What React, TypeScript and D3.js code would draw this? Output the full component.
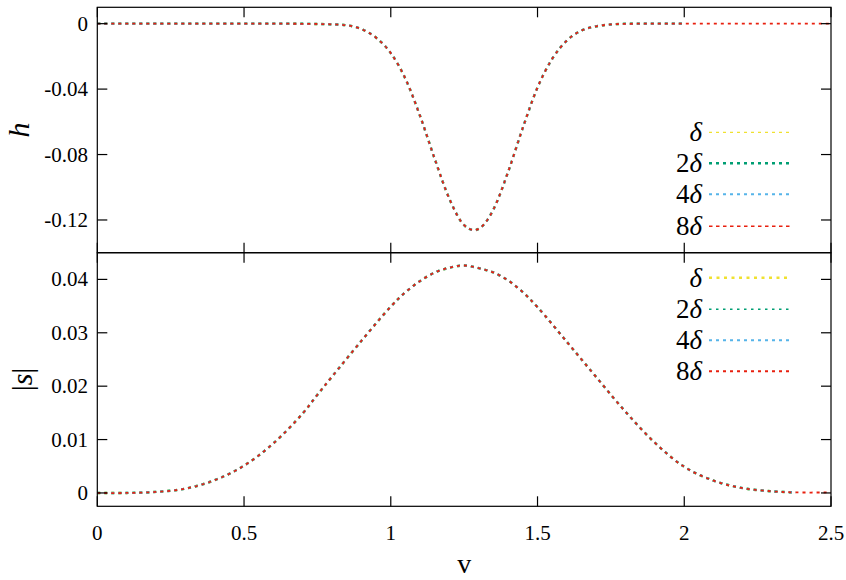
import React from "react";
import * as d3 from "d3";

// ---- data ----
const H_V = [0, 0.2, 0.4, 0.6, 0.7, 0.8, 0.85, 0.9, 0.95, 1.0, 1.05, 1.1, 1.15, 1.2, 1.25, 1.285, 1.32, 1.35, 1.4, 1.45, 1.5, 1.55, 1.6, 1.65, 1.7, 1.75, 1.8, 1.9, 2.0, 2.1, 2.3, 2.5];
const H_VAL = [0, 0, 0, 0, -0.0001, -0.0004, -0.001, -0.0033, -0.0086, -0.018, -0.0337, -0.0565, -0.0828, -0.1072, -0.1232, -0.1262, -0.1222, -0.1135, -0.0905, -0.0636, -0.039, -0.0215, -0.0103, -0.0042, -0.0016, -0.0005, -0.0001, 0, 0, 0, 0, 0];

const S_V = [0, 0.1, 0.2, 0.3, 0.4, 0.5, 0.6, 0.7, 0.75, 0.8, 0.9, 1.0, 1.05, 1.1, 1.15, 1.2, 1.25, 1.3, 1.35, 1.4, 1.45, 1.5, 1.6, 1.7, 1.8, 1.9, 2.0, 2.1, 2.2, 2.3, 2.38, 2.5];
const S_VAL = [0, 0, 0.0002, 0.0008, 0.0024, 0.0051, 0.0093, 0.0149, 0.0184, 0.0218, 0.0285, 0.0349, 0.0376, 0.0397, 0.0413, 0.0422, 0.0426, 0.0421, 0.0413, 0.0398, 0.0376, 0.0348, 0.0283, 0.0217, 0.0152, 0.0094, 0.0049, 0.0023, 0.0009, 0.0003, 0.0001, 0.0001];

const SERIES_LABELS = ["δ", "2δ", "4δ", "8δ"];
const TOP_END = [2.0, 2.0, 2.0, 2.5];
const BOTTOM_END = [2.38, 2.38, 2.38, 2.5];

const X_TICKS = [0, 0.5, 1, 1.5, 2, 2.5];
const X_TICK_LABELS = ["0", "0.5", "1", "1.5", "2", "2.5"];
const H_TICKS = [0, -0.04, -0.08, -0.12];
const H_TICK_LABELS = ["0", "-0.04", "-0.08", "-0.12"];
const S_TICKS = [0, 0.01, 0.02, 0.03, 0.04];
const S_TICK_LABELS = ["0", "0.01", "0.02", "0.03", "0.04"];

// ---- styles ----
const COLORS = ["#f0e130", "#009e73", "#56b4e9", "#e8200f"];
const TOP_STYLE = [
  { w: 1.3, dash: "3,4" },
  { w: 2.6, dash: "3,4" },
  { w: 2.0, dash: "3,4" },
  { w: 1.6, dash: "3.5,3.5" },
];
const BOT_STYLE = [
  { w: 2.5, dash: "3,4.5" },
  { w: 1.5, dash: "2.5,4.5" },
  { w: 2.0, dash: "3,4" },
  { w: 2.0, dash: "3,4" },
];
const CURVE_W = [2.4, 2.4, 2.2, 1.8];
const CURVE_DASH = "3,4";

const FAMILY = "Liberation Serif";

function T(props: any) {
  const { children, ...rest } = props;
  return (
    <text fontFamily={FAMILY} style={{ fontFamily: `"${FAMILY}"` }} {...rest}>{children}</text>
  );
}

export default function App() {
  const L = 97.3, R = 831, TOP = 7.3, MID = 252.7, B = 506.3;
  const x = d3.scaleLinear().domain([0, 2.5]).range([L, R]);
  const yT = d3.scaleLinear().domain([-0.14, 0.01]).range([MID, TOP]);
  const yB = d3.scaleLinear().domain([-0.0025, 0.045]).range([B, MID]);

  const hPts = H_V.map((v, i) => [v, H_VAL[i]] as [number, number]);
  const sPts = S_V.map((v, i) => [v, S_VAL[i]] as [number, number]);

  const lineT = d3.line<[number, number]>().x(d => x(d[0])).y(d => yT(d[1])).curve(d3.curveMonotoneX);
  const lineB = d3.line<[number, number]>().x(d => x(d[0])).y(d => yB(d[1])).curve(d3.curveCatmullRom.alpha(0.5));

  const TICK = 10;
  const tickLabelSize = 21;

  const legendTopY = [132.3, 163.3, 194.3, 226.3];
  const legendBotY = [277.7, 309.3, 340.3, 371.3];

  const legendLabel = (lab: string) => {
    const num = lab.slice(0, -1);
    return (
      <>
        {num && <tspan>{num}</tspan>}
        <tspan fontStyle="italic">δ</tspan>
      </>
    );
  };

  return (
    <svg width={846} height={580} fontFamily={FAMILY} style={{ position: "absolute", left: 0, top: 0, background: "#fff" }}>
      <rect x={0} y={0} width={846} height={580} fill="#fff" />
      <defs>
        <clipPath id="clipT">
          <rect x={L} y={TOP} width={R - L} height={MID - TOP} />
        </clipPath>
        <clipPath id="clipB">
          <rect x={L} y={MID} width={R - L} height={B - MID} />
        </clipPath>
      </defs>
      {/* curves top */}
      <g clipPath="url(#clipT)">
        {SERIES_LABELS.map((_, i) => (
          <path key={"t" + i} d={lineT(hPts.filter(p => p[0] <= TOP_END[i] + 1e-9)) || ""} fill="none"
            stroke={COLORS[i]} strokeWidth={CURVE_W[i]} strokeDasharray={CURVE_DASH} />
        ))}
      </g>
      <g clipPath="url(#clipB)">
        {SERIES_LABELS.map((_, i) => (
          <path key={"b" + i} d={lineB(sPts.filter(p => p[0] <= BOTTOM_END[i] + 1e-9)) || ""} fill="none"
            stroke={COLORS[i]} strokeWidth={CURVE_W[i]} strokeDasharray={CURVE_DASH} />
        ))}
      </g>

      {/* frames */}
      <rect x={L} y={TOP} width={R - L} height={MID - TOP} fill="none" stroke="#000" strokeWidth={1.2} />
      <rect x={L} y={MID} width={R - L} height={B - MID} fill="none" stroke="#000" strokeWidth={1.2} />

      {/* x ticks on both panels, all four edges */}
      {X_TICKS.map((t, i) => (
        <g key={"xt" + i} stroke="#000" strokeWidth={1.2}>
          <line x1={x(t)} x2={x(t)} y1={TOP} y2={TOP + TICK} />
          <line x1={x(t)} x2={x(t)} y1={MID} y2={MID - TICK} />
          <line x1={x(t)} x2={x(t)} y1={MID} y2={MID + TICK} />
          <line x1={x(t)} x2={x(t)} y1={B} y2={B - TICK} />
        </g>
      ))}
      {X_TICKS.map((t, i) => (
        <T key={"xl" + i} x={x(t)} y={540} textAnchor="middle" fontSize={tickLabelSize}>{X_TICK_LABELS[i]}</T>
      ))}

      {/* y ticks top */}
      {H_TICKS.map((t, i) => (
        <g key={"ht" + i}>
          <line x1={L} x2={L + TICK} y1={yT(t)} y2={yT(t)} stroke="#000" strokeWidth={1.2} />
          <line x1={R} x2={R - TICK} y1={yT(t)} y2={yT(t)} stroke="#000" strokeWidth={1.2} />
          <T x={88} y={yT(t) + 7} textAnchor="end" fontSize={tickLabelSize}>{H_TICK_LABELS[i]}</T>
        </g>
      ))}
      {/* y ticks bottom */}
      {S_TICKS.map((t, i) => (
        <g key={"st" + i}>
          <line x1={L} x2={L + TICK} y1={yB(t)} y2={yB(t)} stroke="#000" strokeWidth={1.2} />
          <line x1={R} x2={R - TICK} y1={yB(t)} y2={yB(t)} stroke="#000" strokeWidth={1.2} />
          <T x={88} y={yB(t) + 7} textAnchor="end" fontSize={tickLabelSize}>{S_TICK_LABELS[i]}</T>
        </g>
      ))}

      {/* axis labels */}
      <T transform={`translate(29,${(TOP + MID) / 2}) rotate(-90)`} textAnchor="middle" fontSize={30} fontStyle="italic">h</T>
      <T transform={`translate(32,${(MID + B) / 2}) rotate(-90)`} textAnchor="middle" fontSize={30}>
        |<tspan fontStyle="italic">s</tspan>|
      </T>
      <T x={(L + R) / 2} y={573} textAnchor="middle" fontSize={28}>v</T>

      {/* legends */}
      {SERIES_LABELS.map((lab, i) => (
        <g key={"lt" + i}>
          <T x={702} y={legendTopY[i] + 9} textAnchor="end" fontSize={27}>{legendLabel(lab)}</T>
          <line x1={709} x2={790} y1={legendTopY[i]} y2={legendTopY[i]} stroke={COLORS[i]} strokeWidth={TOP_STYLE[i].w} strokeDasharray={TOP_STYLE[i].dash} />
        </g>
      ))}
      {SERIES_LABELS.map((lab, i) => (
        <g key={"lb" + i}>
          <T x={702} y={legendBotY[i] + 9} textAnchor="end" fontSize={27}>{legendLabel(lab)}</T>
          <line x1={709} x2={790} y1={legendBotY[i]} y2={legendBotY[i]} stroke={COLORS[i]} strokeWidth={BOT_STYLE[i].w} strokeDasharray={BOT_STYLE[i].dash} />
        </g>
      ))}
    </svg>
  );
}
